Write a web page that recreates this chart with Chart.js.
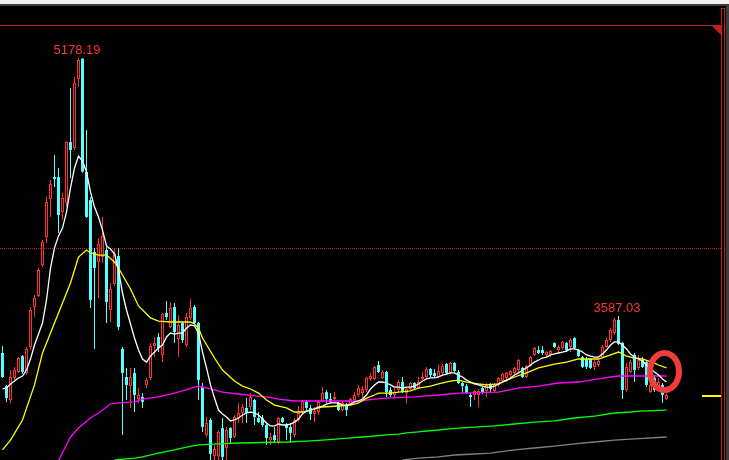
<!DOCTYPE html>
<html>
<head>
<meta charset="utf-8">
<script src="https://cdn.jsdelivr.net/npm/chart.js@4.4.1/dist/chart.umd.min.js"></script>
<style>
  html, body { margin: 0; padding: 0; background: #000; }
  canvas { display: block; }
</style>
</head>
<body>
<canvas id="kline" width="729" height="460"></canvas>
<script>
// weekly candles, oldest first
var opens = [3359,3155,3069,3205,3242,3340,3236,3396,3643,3710,
  3902,4074,4309,4444,4444,4228,4284,4660,4623,5049,
  5174,4475,4302,3982,3920,3951,3994,3624,3784,3957,
  3384,3211,3155,3236,3075,3088,3162,3205,3402,3458,
  3347,3606,3519,3643,3445,3544,3408,3575,3643,3544,
  3149,2853,2946,2724,2720,2896,2773,2896,2841,2958,
  2989,3020,3026,3069,2958,2958,2915,2822,2853,2810,
  2958,2915,2903,2853,2946,2995,3057,3020,2983,2995,
  3063,3118,3075,3075,3051,3007,3038,3038,3069,3100,
  3112,3131,3199,3199,3285,3205,3242,3131,3100,3131,
  3180,3112,3137,3174,3143,3199,3211,3260,3236,3211,
  3236,3291,3236,3297,3242,3174,3155,3100,3100,3100,
  3143,3125,3168,3125,3162,3186,3205,3223,3236,3254,
  3267,3211,3279,3347,3377,3377,3347,3353,3421,3377,
  3390,3421,3396,3451,3377,3334,3322,3322,3273,3285,
  3334,3396,3439,3482,3563,3421,3131,3242,3347,3267,
  3316,3303,3118,3205,3149,3162,3075];
var highs = [3402,3162,3254,3273,3334,3347,3396,3643,3717,3883,
  4056,4321,4426,4580,4500,4346,4665,4993,5061,5178.19,
  5176,4734,4321,4007,4068,4198,4013,3791,4000,4007,
  3396,3267,3267,3267,3143,3112,3205,3421,3458,3482,
  3606,3680,3673,3667,3593,3556,3606,3692,3655,3550,
  3174,2964,2958,2792,2884,2958,2903,2903,2977,3051,
  3044,3081,3112,3075,2995,2977,2933,2866,2903,2964,
  2964,2927,2927,2958,3032,3069,3069,3038,3026,3069,
  3149,3131,3112,3118,3057,3057,3051,3081,3118,3162,
  3155,3211,3236,3279,3310,3254,3248,3149,3143,3192,
  3211,3143,3180,3180,3211,3242,3273,3267,3260,3285,
  3291,3297,3303,3303,3254,3180,3168,3112,3131,3137,
  3149,3174,3174,3174,3211,3236,3242,3254,3273,3322,
  3273,3285,3340,3396,3402,3402,3371,3377,3424,3408,
  3433,3427,3451,3458,3384,3340,3334,3328,3316,3316,
  3408,3451,3513,3577,3587.03,3427,3297,3316,3359,3347,
  3334,3316,3223,3223,3205,3174,3112];
var lows = [3205,3057,3051,3192,3236,3229,3223,3377,3581,3704,
  3889,4037,4198,4383,4099,4179,4259,4438,4611,4999,
  4470,4192,3636,3384,3698,3914,3544,3550,3772,3501,
  2853,3069,3020,2995,3051,3020,3143,3192,3334,3365,
  3303,3563,3513,3421,3334,3421,3396,3563,3538,3069,
  2872,2841,2637,2680,2690,2637,2700,2804,2835,2927,
  2927,2927,3007,2915,2927,2903,2792,2792,2804,2798,
  2927,2822,2804,2841,2933,2989,3007,2946,2933,2977,
  3057,3051,3051,3057,3001,3001,2970,3032,3051,3088,
  3081,3118,3186,3192,3236,3199,3088,3088,3081,3118,
  3112,3051,3131,3131,3137,3192,3205,3211,3205,3205,
  3223,3223,3229,3242,3168,3112,3106,3026,3069,3026,
  3106,3088,3118,3118,3149,3174,3180,3199,3229,3242,
  3205,3208,3273,3340,3353,3347,3334,3334,3390,3365,
  3377,3365,3365,3384,3334,3267,3260,3260,3254,3273,
  3328,3390,3427,3470,3408,3075,3118,3236,3180,3254,
  3267,3149,3112,3118,3131,3051,3069];
var closes = [3211,3081,3211,3254,3328,3242,3384,3624,3698,3871,
  4044,4290,4401,4432,4210,4315,4660,4611,5024,5166,
  4478,4198,3686,3883,4031,4081,3673,3754,3970,3519,
  3236,3162,3211,3100,3100,3057,3192,3402,3421,3390,
  3599,3581,3636,3488,3532,3439,3581,3636,3544,3192,
  2903,2927,2737,2767,2872,2718,2884,2835,2964,2989,
  3026,2989,3088,2964,2933,2915,2835,2841,2822,2958,
  2933,2896,2866,2946,2989,3063,3020,2983,3001,3057,
  3112,3075,3057,3088,3007,3051,3007,3075,3100,3143,
  3137,3205,3217,3273,3242,3242,3118,3100,3118,3180,
  3118,3137,3174,3143,3180,3211,3260,3223,3217,3248,
  3279,3236,3297,3248,3174,3155,3112,3088,3125,3125,
  3112,3162,3137,3162,3205,3229,3236,3248,3267,3316,
  3211,3279,3334,3390,3359,3359,3365,3371,3396,3396,
  3427,3377,3439,3390,3340,3273,3273,3267,3303,3310,
  3396,3439,3501,3566,3414,3131,3273,3303,3254,3316,
  3273,3162,3162,3131,3180,3100,3100];

// short moving average (white), one value per candle
var maWhite = [3137,3143,3168,3186,3205,3217,3254,3322,3408,3476,
  3544,3686,3883,4007,4081,4130,4228,4377,4500,4574,
  4543,4475,4352,4259,4198,4117,4019,4000,3970,3871,
  3729,3624,3538,3451,3377,3322,3303,3340,3365,3390,
  3408,3458,3482,3476,3482,3482,3513,3532,3526,3482,
  3365,3267,3162,3081,3007,2983,2964,2940,2946,2958,
  2977,2989,2995,2989,2977,2952,2927,2909,2909,2921,
  2915,2915,2921,2933,2952,2983,3001,3007,3014,3026,
  3032,3044,3051,3051,3051,3038,3038,3044,3057,3063,
  3075,3100,3137,3162,3180,3180,3174,3162,3149,3149,
  3143,3149,3149,3155,3168,3186,3199,3205,3205,3211,
  3223,3229,3236,3236,3223,3211,3192,3180,3168,3162,
  3155,3149,3149,3155,3168,3180,3192,3205,3223,3236,
  3254,3267,3285,3303,3316,3328,3334,3347,3353,3359,
  3365,3371,3384,3384,3377,3365,3347,3340,3334,3334,
  3353,3377,3408,3427,3427,3408,3384,3353,3334,3322,
  3310,3285,3260,3242,3223,3199,3180];

// slower averages, sampled where read (candle index -> value)
var maYellowAt = [0,2,5,8,10,13,15,17,19,21,22,24,26,28,29,32,34,37,39,42,47,48,49,50,53,
  55,58,60,62,64,66,68,71,73,75,77,80,84,87,89,91,93,94,97,99,102,104,107,109,112,
  114,116,119,121,124,128,131,134,138,141,144,149,152,154,156,158,160,163,164,166];
var maYellow = [2761,2822,2946,3162,3359,3544,3667,3791,3951,3994,3976,3963,3963,3920,3883,3754,3649,3575,3556,3550,3550,3538,3513,3451,3328,
  3254,3186,3155,3137,3112,3069,3038,3020,2995,2995,3007,3026,3032,3038,3051,3081,3100,3112,3112,3118,3125,3143,3155,3168,3186,
  3192,3180,3168,3162,3168,3211,3236,3267,3291,3303,3322,3322,3347,3365,3340,3328,3322,3297,3285,3267];

var maMagentaAt = [14,17,19,22,24,27,29,33,35,39,42,45,48,49,52,55,59,63,66,69,73,89,93,96,103,109,114,124,129,134,139,144,149,152,154,166];
var maMagenta = [2693,2841,2896,2958,2989,3044,3051,3057,3075,3088,3106,3125,3149,3155,3137,3118,3106,3094,3088,3075,3063,3063,3075,3081,3088,3100,3112,3118,3143,3155,3174,3180,3199,3211,3217,3217];

var maGreenAt = [28,33,35,39,43,46,49,54,59,71,76,80,84,87,90,93,95,99,101,104,106,109,111,114,119,123,128,133,138,143,148,153,157,159,166];
var maGreen = [2699,2711,2718,2742,2761,2779,2792,2798,2804,2810,2816,2822,2829,2835,2841,2847,2853,2859,2866,2872,2878,2884,2890,2896,2903,2909,2921,2933,2940,2958,2970,2989,2995,3001,3007];

var maGrayAt = [100,104,109,113,118,122,128,133,138,143,148,153,158,166];
var maGray = [2699,2711,2718,2730,2736,2742,2761,2773,2785,2798,2810,2822,2829,2841];

// dotted reference level and the hand-drawn ring near the last candles
var refLevel = 4006;
var ringAt = 165.5;
var ringLevel = 3245;

var upColor = '#ff3232';
var downColor = '#54ffff';
var frameRed = '#c81c1c';

var isUp = closes.map(function (c, i) { return c >= opens[i]; });

function maLine(at, vals, color) {
  return {
    type: 'line',
    data: vals.map(function (v, k) { return { x: at[k], y: v }; }),
    borderColor: color,
    borderWidth: 1.3,
    pointRadius: 0,
    tension: 0,
    fill: false,
    order: 1
  };
}

// a candle is labelled when it is the highest one within 60 weeks each side
function peakIndexes() {
  var out = [];
  for (var i = 0; i < highs.length; i++) {
    var best = true;
    for (var j = Math.max(0, i - 60); j <= Math.min(highs.length - 1, i + 60); j++) {
      if (highs[j] > highs[i]) { best = false; break; }
    }
    if (best) out.push(i);
  }
  return out;
}

var frame = {
  id: 'frame',
  beforeDraw: function (chart) {
    var c = chart.ctx;
    c.save();
    c.fillStyle = '#000';
    c.fillRect(0, 0, chart.width, chart.height);
    c.restore();
  },
  beforeDatasetsDraw: function (chart) {
    var c = chart.ctx;
    var y = Math.round(chart.scales.y.getPixelForValue(refLevel)) + 0.5;
    c.save();
    c.strokeStyle = frameRed;
    c.lineWidth = 1;
    c.setLineDash([1, 1]);
    c.beginPath();
    c.moveTo(0, y);
    c.lineTo(721, y);
    c.stroke();
    c.restore();
  },
  afterDraw: function (chart) {
    var c = chart.ctx, xs = chart.scales.x, ys = chart.scales.y;
    var w = chart.width, h = chart.height;
    c.save();
    // window edge at the top and right
    c.fillStyle = '#f0f0f0';
    c.fillRect(0, 0, w, 4);
    c.fillStyle = '#3c3c3c';
    c.fillRect(0, 4, w, 2);
    c.fillRect(726, 4, w - 726, h);
    // red frame
    c.fillStyle = frameRed;
    c.fillRect(0, 25, 721, 1);
    c.strokeStyle = frameRed;
    c.lineWidth = 1;
    c.strokeRect(721.5, 8.5, 3, h);
    c.beginPath();
    c.moveTo(711, 25);
    c.lineTo(722, 25);
    c.lineTo(722, 36);
    c.closePath();
    c.fill();
    // last close marker
    var last = closes.length - 1;
    var yl = Math.round(ys.getPixelForValue(closes[last]));
    c.fillStyle = '#ffff00';
    c.fillRect(702, yl, 19, 2);
    // peak labels
    c.fillStyle = upColor;
    c.font = '13px "Liberation Sans", Arial, sans-serif';
    c.textAlign = 'center';
    c.textBaseline = 'alphabetic';
    peakIndexes().forEach(function (i) {
      c.fillText(highs[i].toFixed(2), xs.getPixelForValue(i) - 1.5, ys.getPixelForValue(highs[i]) - 4);
    });
    // ring
    c.strokeStyle = '#f23c3c';
    c.lineWidth = 6;
    c.beginPath();
    c.ellipse(xs.getPixelForValue(ringAt), ys.getPixelForValue(ringLevel), 14.5, 18.5, 0, 0, 2 * Math.PI);
    c.stroke();
    c.restore();
  }
};

var ctx = document.getElementById('kline').getContext('2d');

var chart = new Chart(ctx, {
  type: 'bar',
  data: {
    datasets: [
      maLine(maWhite.map(function (v, i) { return i; }), maWhite, '#ffffff'),
      maLine(maYellowAt, maYellow, '#ffff00'),
      maLine(maMagentaAt, maMagenta, '#ff00ff'),
      maLine(maGreenAt, maGreen, '#00ff00'),
      maLine(maGrayAt, maGray, '#808080'),
      {
        // candle bodies: hollow red up, filled cyan down
        data: closes.map(function (c, i) { return { x: i, y: [opens[i], c] }; }),
        backgroundColor: isUp.map(function (u) { return u ? '#000000' : downColor; }),
        borderColor: isUp.map(function (u) { return u ? upColor : downColor; }),
        borderWidth: isUp.map(function (u) { return u ? 1 : 0; }),
        borderSkipped: false,
        barThickness: 3,
        minBarLength: 1,
        inflateAmount: 0,
        grouped: false,
        order: 2
      },
      {
        // wicks
        data: closes.map(function (c, i) { return { x: i, y: [lows[i], highs[i]] }; }),
        backgroundColor: isUp.map(function (u) { return u ? upColor : downColor; }),
        borderWidth: 0,
        barThickness: 1,
        inflateAmount: 0,
        grouped: false,
        order: 3
      }
    ]
  },
  options: {
    responsive: false,
    animation: false,
    devicePixelRatio: 1,
    events: [],
    layout: { padding: 0 },
    plugins: {
      legend: { display: false },
      tooltip: { enabled: false }
    },
    scales: {
      x: { type: 'linear', display: false, offset: false, min: -0.625, max: 181.625 },
      y: { type: 'linear', display: false, beginAtZero: false, min: 2699.1, max: 5535.9 }
    }
  },
  plugins: [frame]
});
</script>
</body>
</html>
